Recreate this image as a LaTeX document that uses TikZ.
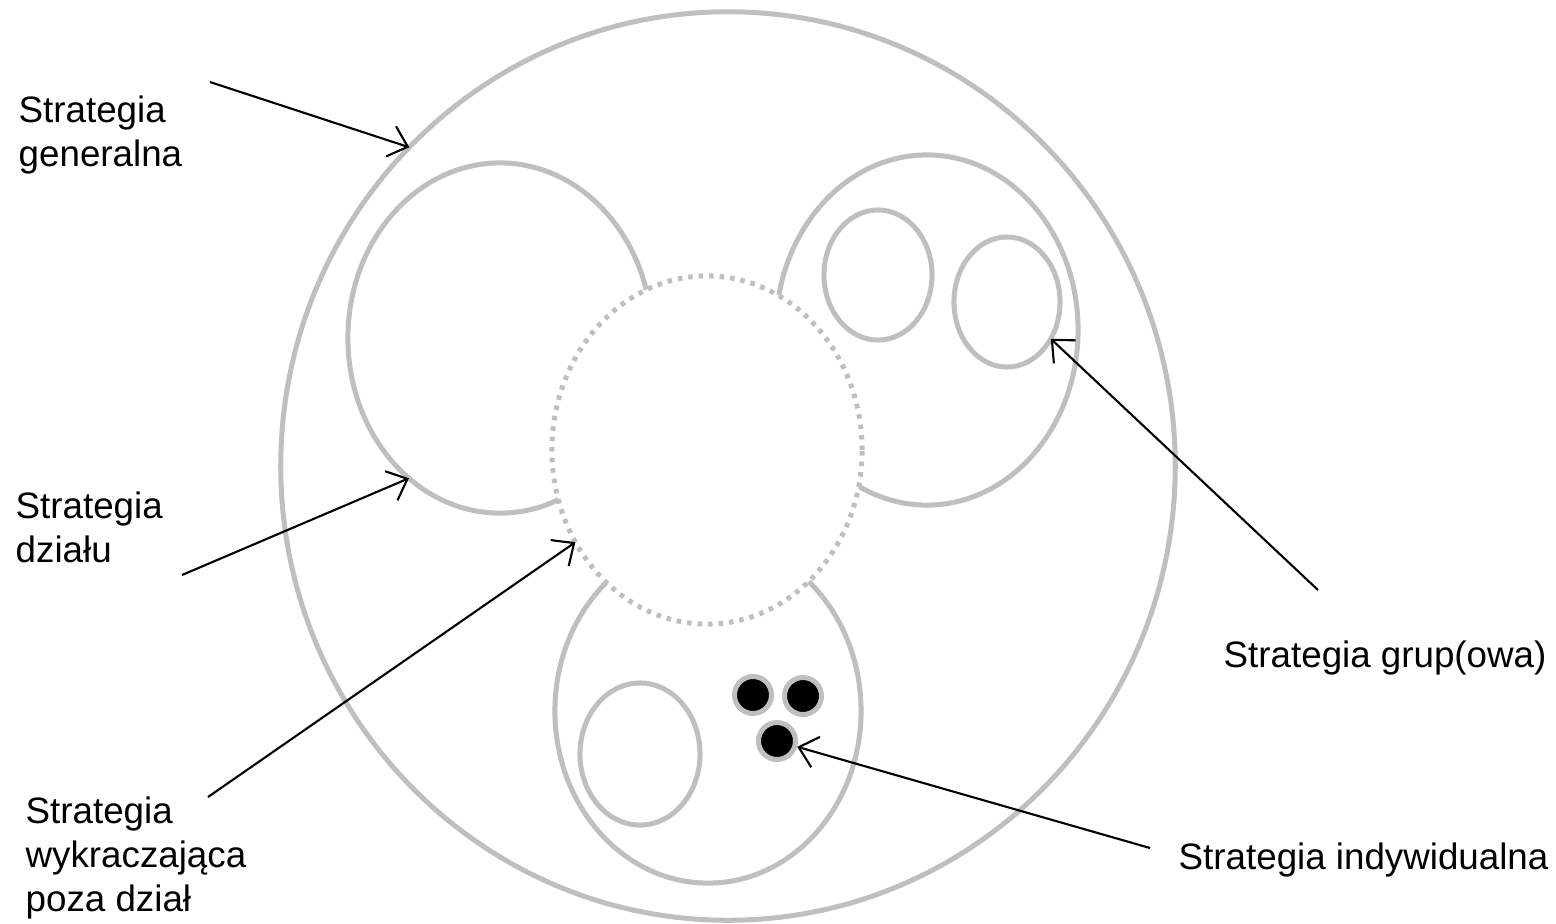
\documentclass[tikz,border=0pt]{standalone}
\usepackage{fontspec}
\setmainfont{Liberation Sans}
\usetikzlibrary{arrows.meta,shapes.geometric}
\definecolor{ringgray}{RGB}{191,191,191}

\begin{document}
\begin{tikzpicture}[x=0.01cm, y=-0.01cm,
  every node/.style={font=\fontsize{10.45}{12.5}\selectfont},
  ring/.style={draw=ringgray, line width=0.05cm, ellipse, inner sep=0pt, outer sep=0pt},
  dot/.style={draw=ringgray, line width=0.05cm, circle, fill=black, minimum size=0.37cm, inner sep=0pt},
  txt/.style={anchor=north west, align=left, inner sep=0pt},
  pointer/.style={-{Straight Barb[length=5pt,width=9pt]}, line width=0.6pt}
]
\useasboundingbox (0,0) rectangle (1556,923);

\node[ring, minimum width=8.94cm, minimum height=9.08cm] (general) at (728,466) {};
\node[ring, minimum width=3.04cm, minimum height=3.5cm] (dzial) at (500,338) {};
\node[ring, minimum width=3.02cm, minimum height=3.5cm] (grupa) at (927,330) {};
\node[ring, minimum width=3.06cm, minimum height=3.44cm] (dolny) at (708,711) {};
\node[ring, dash pattern=on 0.045cm off 0.06cm, fill=white, minimum width=3.1cm, minimum height=3.48cm] (poza) at (707,450) {};
\node[ring, minimum width=1.08cm, minimum height=1.3cm] (grupaA) at (878,275) {};
\node[ring, minimum width=1.06cm, minimum height=1.3cm] (grupaB) at (1007,302) {};
\node[ring, minimum width=1.2cm, minimum height=1.42cm] (dolnyA) at (640,754) {};
\node[dot] (osobaA) at (753,695) {};
\node[dot] (osobaB) at (803,696) {};
\node[dot] (osobaC) at (777,741) {};

\node[txt] (genTxt) at (18,95) {Strategia\\generalna};
\node[txt] (dzTxt) at (15,491) {Strategia\\działu};
\node[txt] (wykTxt) at (25,796) {Strategia\\wykraczająca\\poza dział};
\node[txt] (grupTxt) at (1223,640) {Strategia grup(owa)};
\node[txt] (indTxt) at (1178,842) {Strategia indywidualna};

\coordinate (genStart) at (210,82);
\coordinate (dzStart) at (182,575);
\coordinate (wykStart) at (208,797);
\coordinate (grupStart) at (1318,590);
\coordinate (indStart) at (1150,848);

\draw[pointer] (genStart) -- (general.135);
\draw[pointer] (dzStart) -- (dzial.237);
\draw[pointer] (wykStart) -- (poza.215);
\draw[pointer] (grupStart) -- (grupaB.320);
\draw[pointer] (indStart) -- (osobaC);
\end{tikzpicture}
\end{document}
